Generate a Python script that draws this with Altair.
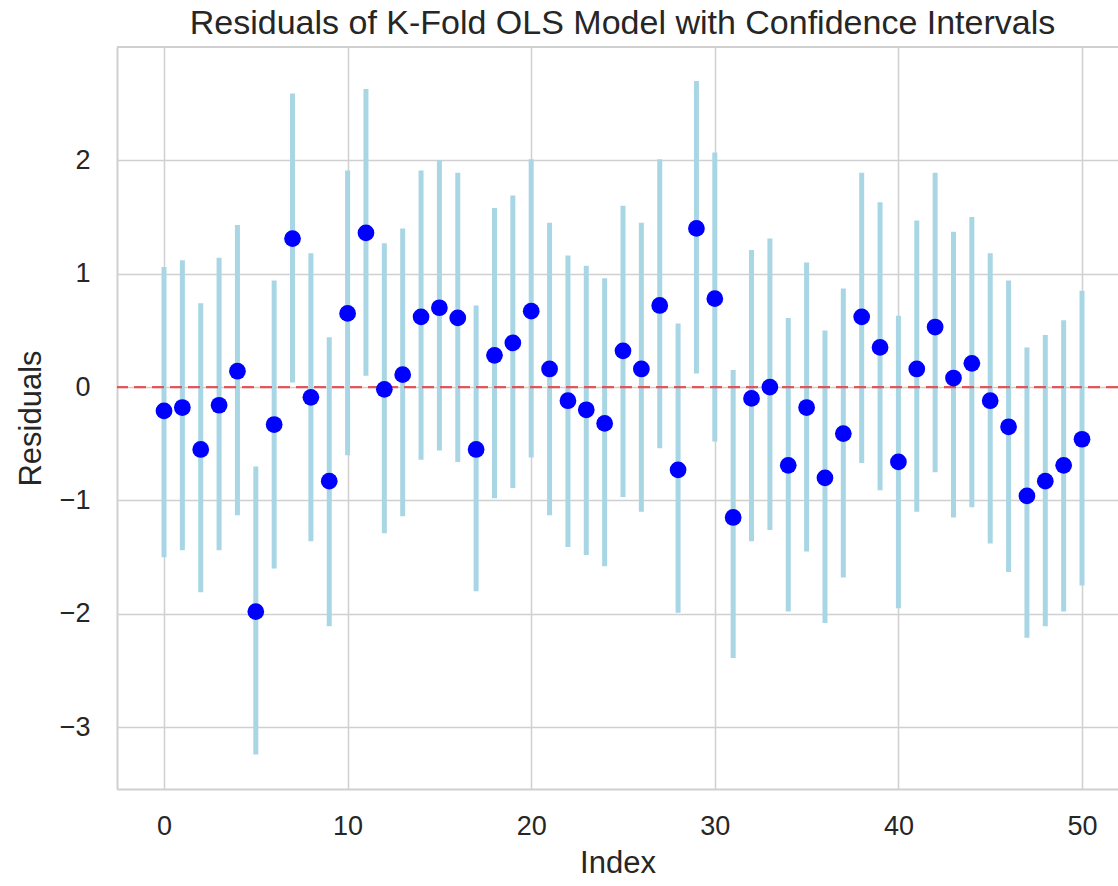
import altair as alt
import pandas as pd

index = list(range(51))
residuals = [-0.21, -0.18, -0.55, -0.16, 0.14, -1.98, -0.33, 1.31, -0.09, -0.83,
             0.65, 1.36, -0.02, 0.11, 0.62, 0.70, 0.61, -0.55, 0.28, 0.39,
             0.67, 0.16, -0.12, -0.20, -0.32, 0.32, 0.16, 0.72, -0.73, 1.40,
             0.78, -1.15, -0.10, 0.00, -0.69, -0.18, -0.80, -0.41, 0.62, 0.35,
             -0.66, 0.16, 0.53, 0.08, 0.21, -0.12, -0.35, -0.96, -0.83, -0.69,
             -0.46]
ci_upper = [1.06, 1.12, 0.74, 1.14, 1.43, -0.70, 0.94, 2.59, 1.18, 0.44,
            1.91, 2.63, 1.27, 1.40, 1.91, 2.00, 1.89, 0.72, 1.58, 1.69,
            2.01, 1.45, 1.16, 1.07, 0.96, 1.60, 1.45, 2.01, 0.56, 2.70,
            2.07, 0.15, 1.21, 1.31, 0.61, 1.10, 0.50, 0.87, 1.89, 1.63,
            0.63, 1.47, 1.89, 1.37, 1.50, 1.18, 0.94, 0.35, 0.46, 0.59,
            0.85]
ci_lower = [-1.50, -1.44, -1.81, -1.44, -1.13, -3.24, -1.60, 0.04, -1.36, -2.11,
            -0.60, 0.10, -1.29, -1.14, -0.64, -0.56, -0.66, -1.80, -0.98, -0.89,
            -0.62, -1.13, -1.41, -1.48, -1.58, -0.97, -1.10, -0.54, -1.99, 0.12,
            -0.48, -2.39, -1.36, -1.26, -1.98, -1.45, -2.08, -1.68, -0.67, -0.91,
            -1.95, -1.10, -0.75, -1.15, -1.06, -1.38, -1.63, -2.21, -2.11, -1.98,
            -1.75]
zero_line = [0]
x_ticks = [0, 10, 20, 30, 40, 50]
y_ticks = [-3, -2, -1, 0, 1, 2]

df = pd.DataFrame({"Index": index, "Residuals": residuals,
                   "lo": ci_lower, "hi": ci_upper})
zdf = pd.DataFrame({"z": zero_line})

FONT = "Liberation Sans"
TXT = "#262626"
GRID = "#d0d0d0"
W, H = 1001, 742

xscale = alt.Scale(domain=[-2.56, 51.96], nice=False, zero=False)
yscale = alt.Scale(domain=[-3.545, 3.0], nice=False, zero=False)

xaxis = alt.Axis(values=x_ticks, format="d", title="Index", grid=True,
                 ticks=False, domain=True, domainColor=GRID, domainWidth=2,
                 gridColor=GRID, gridWidth=1.5, labelFontSize=27, labelColor=TXT,
                 labelFont=FONT, labelPadding=24, titleFont=FONT, titleFontSize=31,
                 titleFontWeight="normal", titleColor=TXT, titlePadding=9,
                 labelFlush=False)
yaxis = alt.Axis(values=y_ticks, format="d", title="Residuals", grid=True,
                 ticks=False, domain=True, domainColor=GRID, domainWidth=2,
                 gridColor=GRID, gridWidth=1.5, labelFontSize=27, labelColor=TXT,
                 labelFont=FONT, labelPadding=27, titleFont=FONT, titleFontSize=31,
                 titleFontWeight="normal", titleColor=TXT, titlePadding=12,
                 labelFlush=False)

bars = alt.Chart(df).mark_rule(color="#A8D6E5", strokeWidth=5, strokeCap="butt").encode(
    x=alt.X("Index:Q", scale=xscale, axis=xaxis),
    y=alt.Y("lo:Q", scale=yscale, axis=yaxis),
    y2="hi:Q",
)

top_spine = alt.Chart(zdf).mark_rule(color=GRID, strokeWidth=2).encode(
    x=alt.value(0), x2=alt.value(W), y=alt.value(0)
)

zline = alt.Chart(zdf).mark_rule(color="#e0474c", strokeWidth=2.2,
                                 strokeDash=[12, 6], opacity=0.9).encode(
    y=alt.Y("z:Q", scale=yscale)
)

dots = alt.Chart(df).mark_circle(color="#0000FF", size=280, opacity=1).encode(
    x=alt.X("Index:Q", scale=xscale),
    y=alt.Y("Residuals:Q", scale=yscale),
)

chart = alt.layer(bars, top_spine, zline, dots).properties(
    width=W, height=H,
    title=alt.TitleParams("Residuals of K-Fold OLS Model with Confidence Intervals",
                          font=FONT, fontSize=34, fontWeight="normal", color=TXT,
                          anchor="middle", offset=5, dx=5),
    autosize=alt.AutoSizeParams(type="none"),
    padding={"left": 117, "top": 47, "right": 0, "bottom": 97},
).configure_view(stroke=None).configure(background="white")

chart.save("out.html", embed_options={"renderer": "svg", "actions": False})
